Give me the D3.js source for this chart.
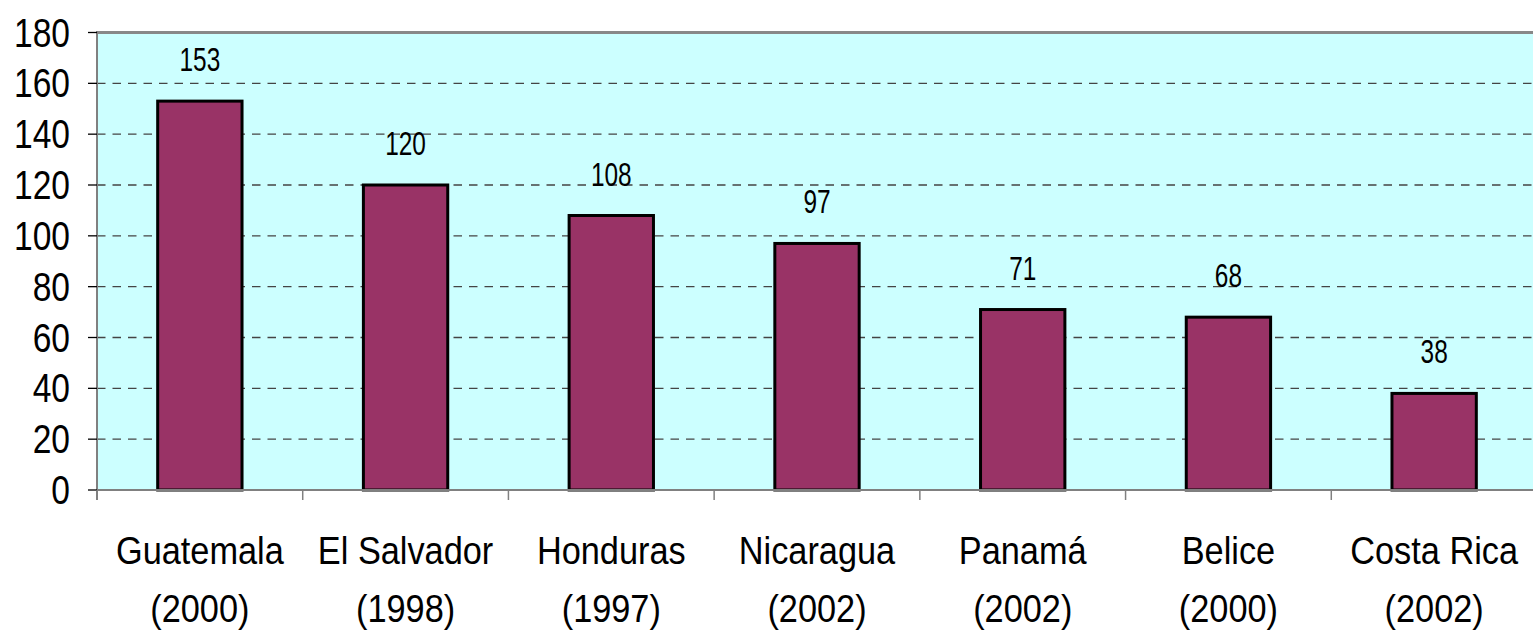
<!DOCTYPE html>
<html>
<head>
<meta charset="utf-8">
<script src="https://cdn.jsdelivr.net/npm/d3@7"></script>
<style>
  body { margin: 0; background: #fff; }
  text { font-family: Arial, "Liberation Sans", sans-serif; fill: #000; }
</style>
</head>
<body>
<div id="chart"></div>
<script>
const countries = ['Guatemala', 'El Salvador', 'Honduras', 'Nicaragua', 'Panamá', 'Belice', 'Costa Rica'];
const years = ['(2000)', '(1998)', '(1997)', '(2002)', '(2002)', '(2000)', '(2002)'];
const values = [153, 120, 108, 97, 71, 68, 38];
const yTicks = [0, 20, 40, 60, 80, 100, 120, 140, 160, 180];

const width = 1533, height = 630;
const margin = { left: 97, top: 32.5, bottom: 140 };
const plotW = 1440;
const y0 = height - margin.bottom; // zero line

const svg = d3.select('#chart').append('svg')
  .attr('width', width)
  .attr('height', height);

const x = d3.scaleBand()
  .domain(countries)
  .range([margin.left, margin.left + plotW])
  .paddingInner(0.59)
  .paddingOuter(0.295);

const y = d3.scaleLinear()
  .domain([0, 180])
  .range([y0, margin.top]);

// narrow text helper (the original font is horizontally compressed)
function narrowText(g, px, py, str, size, sx, anchor) {
  return g.append('text')
    .attr('transform', `translate(${px},${py}) scale(${sx},1)`)
    .attr('text-anchor', anchor)
    .attr('font-size', size)
    .text(str);
}

// plot background
svg.append('rect')
  .attr('x', margin.left)
  .attr('y', margin.top)
  .attr('width', plotW)
  .attr('height', y0 - margin.top)
  .attr('fill', '#ccffff');

// grid lines
svg.append('g').selectAll('line')
  .data(yTicks.filter(d => d > 0 && d < 180))
  .join('line')
  .attr('x1', margin.left)
  .attr('x2', margin.left + plotW)
  .attr('y1', d => y(d))
  .attr('y2', d => y(d))
  .attr('stroke', '#444')
  .attr('stroke-width', 1.3)
  .attr('stroke-dasharray', '8.5,7');

// top border
svg.append('line')
  .attr('x1', margin.left).attr('x2', margin.left + plotW)
  .attr('y1', margin.top).attr('y2', margin.top)
  .attr('stroke', '#888').attr('stroke-width', 3);

// bars
svg.append('g').selectAll('rect')
  .data(values)
  .join('rect')
  .attr('x', (d, i) => x(countries[i]))
  .attr('y', d => y(d))
  .attr('width', x.bandwidth())
  .attr('height', d => y0 - y(d))
  .attr('fill', '#993366')
  .attr('stroke', '#000')
  .attr('stroke-width', 3);

// value labels
const labels = svg.append('g');
values.forEach((v, i) => {
  narrowText(labels, x(countries[i]) + x.bandwidth() / 2, y(v) - 30, String(v), 33, 0.74, 'middle');
});

// y axis
const yAxis = svg.append('g');
yAxis.append('line')
  .attr('x1', margin.left).attr('x2', margin.left)
  .attr('y1', margin.top - 1.5).attr('y2', y0 + 10)
  .attr('stroke', '#808080').attr('stroke-width', 2);
yTicks.forEach(t => {
  yAxis.append('line')
    .attr('x1', margin.left - 9).attr('x2', margin.left)
    .attr('y1', y(t)).attr('y2', y(t))
    .attr('stroke', '#000').attr('stroke-width', 1.3);
  narrowText(yAxis, 70, y(t) + 14, String(t), 40, 0.84, 'end');
});

// x axis
const xAxis = svg.append('g');
xAxis.append('line')
  .attr('x1', margin.left).attr('x2', margin.left + plotW)
  .attr('y1', y0).attr('y2', y0)
  .attr('stroke', '#808080').attr('stroke-width', 2);
d3.range(countries.length).forEach(i => {
  const bx = x(countries[i]) - x.step() * x.paddingOuter();
  xAxis.append('line')
    .attr('x1', bx).attr('x2', bx)
    .attr('y1', y0).attr('y2', y0 + 10)
    .attr('stroke', '#808080').attr('stroke-width', 1.5);
});
countries.forEach((c, i) => {
  const cx = x(c) + x.bandwidth() / 2;
  narrowText(xAxis, cx, 564, c, 39, 0.88, 'middle');
  narrowText(xAxis, cx, 622, years[i], 39, 0.88, 'middle');
});
</script>
</body>
</html>
